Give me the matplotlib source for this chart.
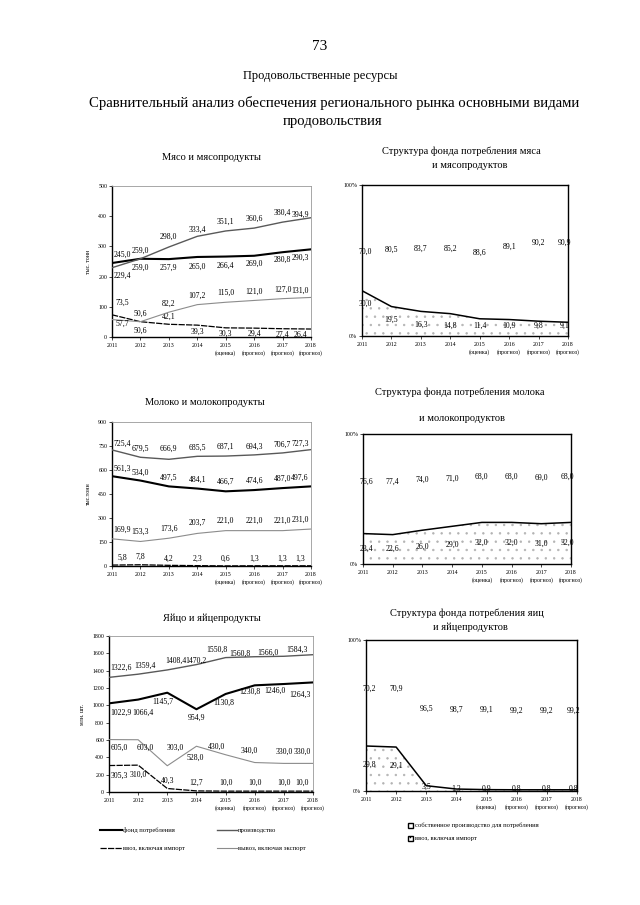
import matplotlib
matplotlib.use("Agg")
import matplotlib.pyplot as plt
from matplotlib.lines import Line2D
from matplotlib.patches import Rectangle
import numpy as np

plt.rcParams['font.family'] = ['Liberation Serif', 'DejaVu Serif']
plt.rcParams['hatch.linewidth'] = 0.5

W, H = 640, 905

years = ['2011', '2012', '2013', '2014', '2015', '2016', '2017', '2018']
year_notes = ['', '', '', '', '(оценка)', '(прогноз)', '(прогноз)', '(прогноз)']

# Мясо, тыс. тонн
meat_consumption = [245.0, 259.0, 257.9, 265.0, 266.4, 269.0, 280.8, 290.3]
meat_production = [229.4, 259.0, 298.0, 333.4, 351.1, 360.6, 380.4, 394.9]
meat_import = [73.5, 50.6, 42.1, 39.3, 30.3, 29.4, 27.4, 26.4]
meat_export = [57.7, 50.6, 82.2, 107.2, 115.0, 121.0, 127.0, 131.0]
meat_own_share = [70.0, 80.5, 83.7, 85.2, 88.6, 89.1, 90.2, 90.9]
meat_import_share = [30.0, 19.5, 16.3, 14.8, 11.4, 10.9, 9.8, 9.1]

# Молоко, тыс. тонн
milk_consumption = [561.3, 534.0, 497.5, 484.1, 466.7, 474.6, 487.0, 497.6]
milk_production = [725.4, 679.5, 666.9, 685.5, 687.1, 694.3, 706.7, 727.3]
milk_import = [5.8, 7.8, 4.2, 2.3, 0.6, 1.3, 1.3, 1.3]
milk_export = [169.9, 153.3, 173.6, 203.7, 221.0, 221.0, 221.0, 231.0]
milk_own_share = [76.6, 77.4, 74.0, 71.0, 68.0, 68.0, 69.0, 68.0]
milk_import_share = [23.4, 22.6, 26.0, 29.0, 32.0, 32.0, 31.0, 32.0]

# Яйца, млн. шт.
egg_consumption = [1022.9, 1066.4, 1145.7, 954.9, 1130.8, 1230.8, 1246.0, 1264.3]
egg_production = [1322.6, 1359.4, 1408.4, 1470.2, 1550.8, 1560.8, 1566.0, 1584.3]
egg_import = [305.3, 310.0, 40.3, 12.7, 10.0, 10.0, 10.0, 10.0]
egg_export = [605.0, 603.0, 303.0, 528.0, 430.0, 340.0, 330.0, 330.0]
egg_own_share = [70.2, 70.9, 96.5, 98.7, 99.1, 99.2, 99.2, 99.2]
egg_import_share = [29.8, 29.1, 3.5, 1.3, 0.9, 0.8, 0.8, 0.8]

STYLE = {
    'cons': dict(color='black', lw=1.5),
    'prod': dict(color='0.35', lw=1.0),
    'imp': dict(color='black', lw=0.9, linestyle=(0, (5, 1))),
    'exp': dict(color='0.55', lw=0.8),
}


def fmt(v):
    return f"{v:.1f}".replace('.', ',')


def add_axes(box):
    left, top, right, bottom = box
    return fig.add_axes([left / W, 1 - bottom / H, (right - left) / W, (bottom - top) / H])


def xaxis_years(ax):
    ax.set_xlim(0, 7)
    ax.set_xticks(range(8))
    ax.set_xticklabels([f"{y}\n{n}" for y, n in zip(years, year_notes)],
                       fontsize=4.2, linespacing=1.5, va='top')
    ax.tick_params(axis='x', length=2, width=0.5, pad=2)


def line_chart(ax, series, ymax, ystep, ylabel):
    x = np.arange(8)
    for key, values, dys, dxs in series:
        ax.plot(x, values, **STYLE[key], zorder=3)
        for i, v in enumerate(values):
            dx = dxs[i] if dxs is not None else (10 if i == 0 else (-11 if i == 7 else 0))
            ax.annotate(fmt(v), (i, v), xytext=(dx, dys[i]), textcoords='offset pixels',
                        ha='center', va='center', fontsize=5.6)
    ax.set_ylim(0, ymax)
    ax.set_yticks(np.arange(0, ymax + 1, ystep))
    ax.set_yticklabels([str(int(t)) for t in np.arange(0, ymax + 1, ystep)], fontsize=4.2)
    ax.tick_params(axis='y', length=2, width=0.5, pad=1.5)
    xaxis_years(ax)
    for s in ('left', 'bottom'):
        ax.spines[s].set_linewidth(1.0)
    for s in ('top', 'right'):
        ax.spines[s].set_linewidth(0.6)
        ax.spines[s].set_color('0.6')
    ax.set_ylabel(ylabel, fontsize=4.2, labelpad=5)


def structure_chart(ax, own, imported, own_y, imp_y):
    x = np.arange(8)
    ax.fill_between(x, 0, imported, facecolor='white', hatch='..', edgecolor='0.7', linewidth=0)
    ax.plot(x, imported, color='black', lw=1.1)
    for i in range(8):
        shift = 0.12 if i == 0 else (-0.12 if i == 7 else 0)
        ax.text(i + shift, own_y[i], fmt(own[i]), ha='center', va='center', fontsize=5.6)
        ax.text(i + shift, imp_y[i], fmt(imported[i]), ha='center', va='center', fontsize=5.6)
    ax.set_ylim(0, 100)
    ax.set_yticks([0, 100])
    ax.set_yticklabels(['0%', '100%'], fontsize=4.2)
    ax.tick_params(axis='y', length=2, width=0.5, pad=1.5)
    xaxis_years(ax)
    for s in ax.spines.values():
        s.set_linewidth(1.0)


fig = plt.figure(figsize=(W / 100, H / 100), dpi=100)
fig.patch.set_facecolor('white')

# headers
fig.text(320 / W, 1 - 47 / H, '73', ha='center', va='center', fontsize=11)
fig.text(320 / W, 1 - 76 / H, 'Продовольственные ресурсы', ha='center', va='center', fontsize=9)
fig.text(334 / W, 1 - 103 / H, 'Сравнительный анализ обеспечения регионального рынка основными видами',
         ha='center', va='center', fontsize=10.6)
fig.text(333 / W, 1 - 121 / H, 'продовольствия', ha='center', va='center', fontsize=10.6)

fig.text(211 / W, 1 - 158 / H, 'Мясо и мясопродукты', ha='center', va='center', fontsize=7.5)
fig.text(461 / W, 1 - 151 / H, 'Структура фонда потребления мяса', ha='center', va='center', fontsize=7.5)
fig.text(470 / W, 1 - 165 / H, 'и мясопродуктов', ha='center', va='center', fontsize=7.5)
fig.text(205 / W, 1 - 402 / H, 'Молоко и молокопродукты', ha='center', va='center', fontsize=7.5)
fig.text(460 / W, 1 - 392 / H, 'Структура фонда потребления молока', ha='center', va='center', fontsize=7.5)
fig.text(462 / W, 1 - 418 / H, 'и молокопродуктов', ha='center', va='center', fontsize=7.5)
fig.text(212 / W, 1 - 618 / H, 'Яйцо и яйцепродукты', ha='center', va='center', fontsize=7.5)
fig.text(467 / W, 1 - 613 / H, 'Структура фонда потребления яиц', ha='center', va='center', fontsize=7.5)
fig.text(470 / W, 1 - 627 / H, 'и яйцепродуктов', ha='center', va='center', fontsize=7.5)

# meat
ax = add_axes((112, 186, 311, 337))
line_chart(ax, [
    ('cons', meat_consumption, [8, -9, -9, -10, -9, -8, -8, -8], None),
    ('prod', meat_production, [-8, 8, 10, 7, 9, 9, 9, 3], None),
    ('imp', meat_import, [12, -9, 7, -7, -6, -6, -6, -6], None),
    ('exp', meat_export, [-4, 8, 8, 9, 9, 9, 9, 7], None),
], 500, 100, 'тыс. тонн')

ax = add_axes((362, 185, 568, 336))
structure_chart(ax, meat_own_share, meat_import_share,
                [56, 57, 58, 58, 55, 59, 62, 62],
                [max(v - 9, 7) for v in meat_import_share])

# milk
ax = add_axes((112, 422, 311, 566))
line_chart(ax, [
    ('cons', milk_consumption, [7, 8, 9, 9, 10, 9, 9, 9], None),
    ('prod', milk_production, [6, 8, 10, 9, 9, 8, 8, 6], None),
    ('imp', milk_import, [7, 8, 7, 7, 7, 7, 7, 7], None),
    ('exp', milk_export, [9, 10, 9, 11, 10, 10, 10, 9], None),
], 900, 150, 'тыс.тонн')

ax = add_axes((363, 434, 571, 564))
structure_chart(ax, milk_own_share, milk_import_share,
                [53 + 0.44 * (100 - v) for v in milk_own_share],
                [v * 0.5 for v in milk_import_share])

# eggs
ax = add_axes((109, 636, 313, 792))
line_chart(ax, [
    ('cons', egg_consumption, [-9, -13, -9, -9, -9, -6, -7, -12], [12, 5, -4, 0, -2, -5, -9, -13]),
    ('prod', egg_production, [10, 8, 9, 4, 8, 3, 3, 5], [12, 7, 9, -1, -9, -15, -16, -16]),
    ('imp', egg_import, [-10, -10, 8, 8, 8, 8, 8, 8], None),
    ('exp', egg_export, [-8, -8, 18, -12, 8, 12, 12, 12], [10, 7, 8, -1, -9, -5, 0, -11]),
], 1800, 200, 'млн. шт.')

ax = add_axes((366, 640, 577, 791))
structure_chart(ax, egg_own_share, egg_import_share,
                [53 + 0.5 * (100 - v) for v in egg_own_share],
                [v * 0.55 + 1 for v in egg_import_share])

# legend for line charts
legend_rows = [
    (100, 122, 830, 'cons', 'фонд потребления'),
    (217, 237, 830, 'prod', 'производство'),
    (100, 122, 848, 'imp', 'ввоз, включая импорт'),
    (217, 237, 848, 'exp', 'вывоз, включая экспорт'),
]
for x0, x1, y, key, label in legend_rows:
    st = STYLE[key]
    fig.add_artist(Line2D([x0 / W, x1 / W], [1 - y / H, 1 - y / H], transform=fig.transFigure,
                          color=st['color'], lw=st['lw'], linestyle=st.get('linestyle', '-')))
    fig.text((x1 + 1) / W, 1 - y / H, label, ha='left', va='center', fontsize=4.8)

# legend for structure charts
for y, hatch, label in [(825, None, 'собственное производство для потребления'),
                        (838, '....', 'ввоз, включая импорт')]:
    fig.add_artist(Rectangle((408 / W, 1 - (y + 2.5) / H), 5 / W, 5 / H, transform=fig.transFigure,
                             facecolor='white', edgecolor='black', lw=1.0, hatch=hatch))
    fig.text(415 / W, 1 - y / H, label, ha='left', va='center', fontsize=4.8)

fig.savefig('out.png', dpi=100)
